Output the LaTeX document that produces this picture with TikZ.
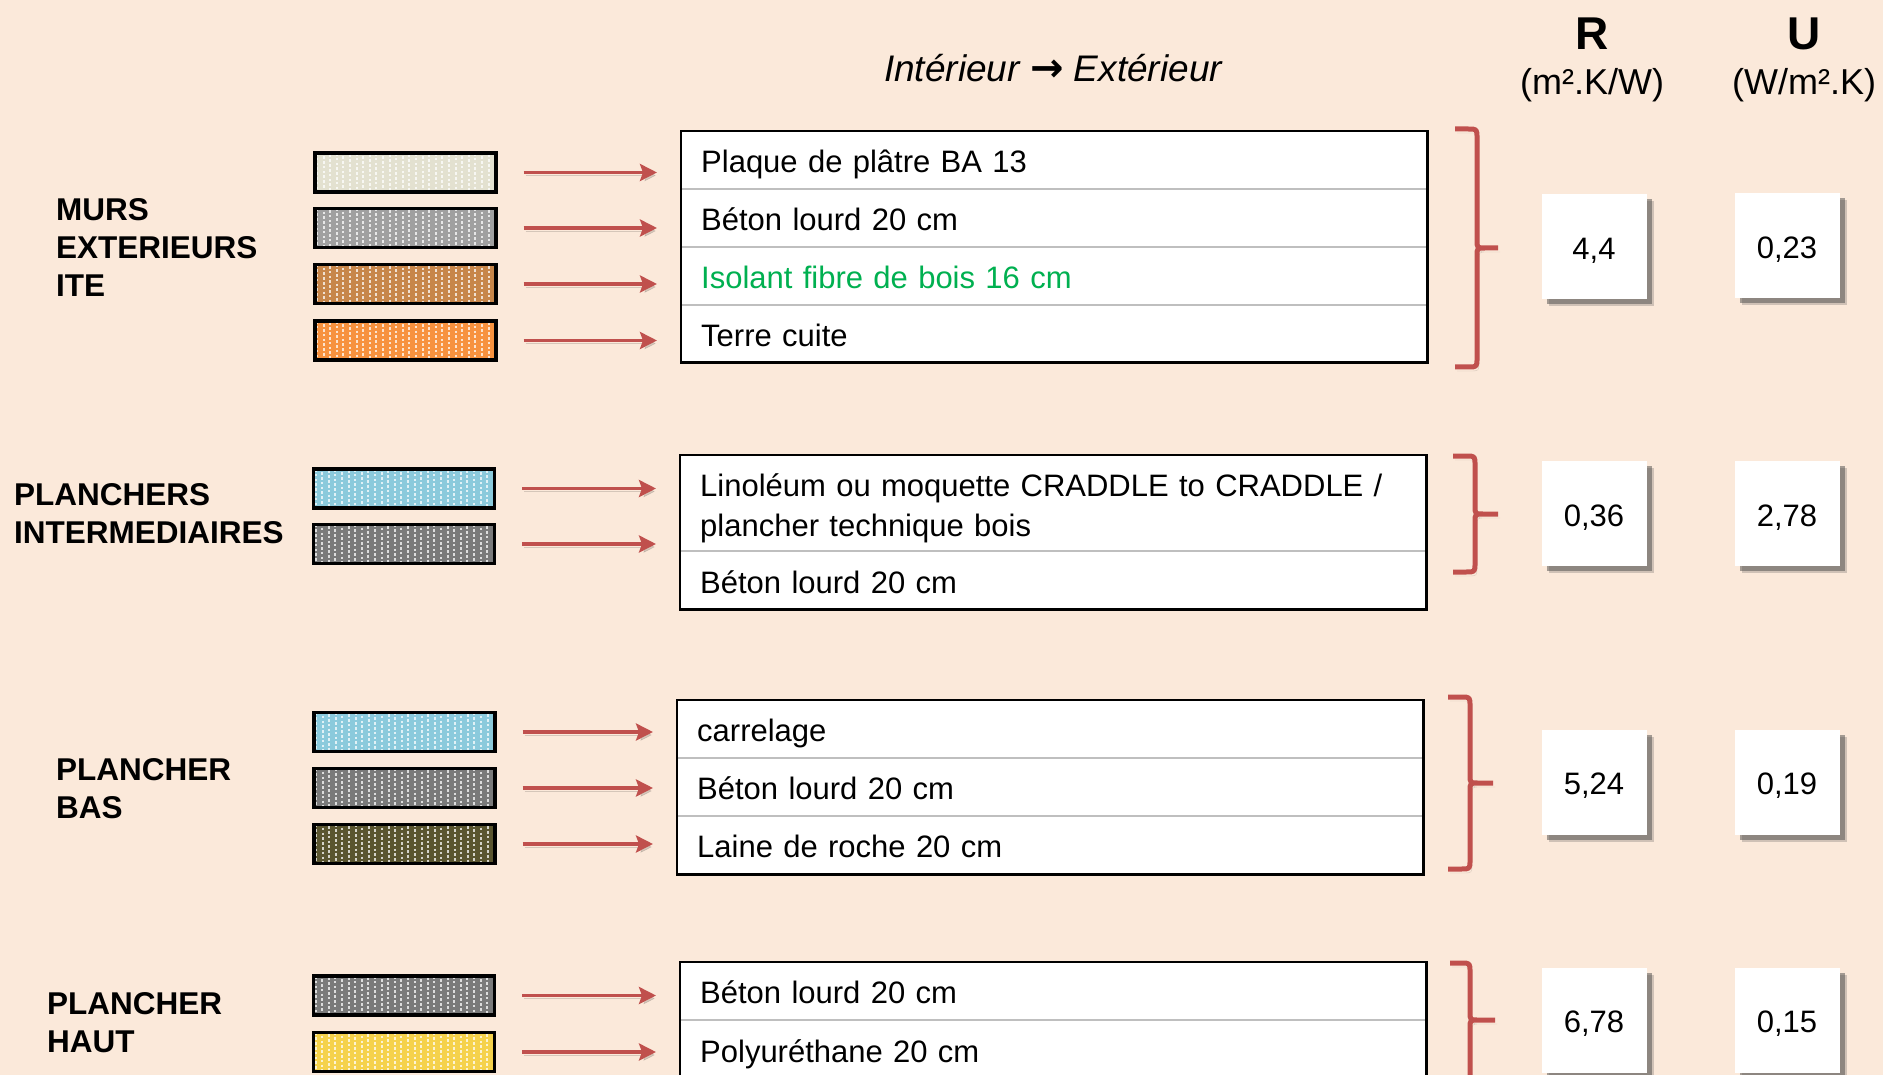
\documentclass[tikz,border=0pt]{standalone}
\usepackage{fontspec}
\setmainfont{Liberation Sans}
\newfontfamily\dejavu{DejaVu Sans}
\usetikzlibrary{arrows.meta,shadows}
\definecolor{bg}{HTML}{FBE9DA}
\definecolor{redc}{HTML}{C0504D}
\definecolor{greenc}{HTML}{00B050}
\definecolor{divc}{HTML}{BFBFBF}
\definecolor{cream}{HTML}{E3E1D0}
\definecolor{lgray}{HTML}{A0A0A0}
\definecolor{brownc}{HTML}{C7864A}
\definecolor{orangec}{HTML}{F7923F}
\definecolor{blue}{HTML}{8BCADC}
\definecolor{dgray}{HTML}{7A7A7A}
\definecolor{olive}{HTML}{5A552F}
\definecolor{yellowc}{HTML}{F5D24C}
\newcommand\mybrace[6]{%
  \draw[bracestyle] (#1,#4) -- ({#2-9},#4) .. controls (#2,#4) .. (#2,{#4+9}) -- (#2,{#5-8}) .. controls (#2,#5) .. ({#2+8},#5) -- (#3,#5)
    ({#2+8},#5) .. controls (#2,#5) .. (#2,{#5+8}) -- (#2,{#6-9}) .. controls (#2,#6) .. ({#2-9},#6) -- (#1,#6);
}
\begin{document}
\begin{tikzpicture}[x=1pt,y=-1pt,
  lab/.style={anchor=west, align=left, font=\bfseries\fontsize{31.5}{38}\selectfont, inner sep=0pt},
  swatch/.style={draw=black, line width=3.2pt, minimum width=181pt, minimum height=39pt, inner sep=0pt,
    path picture={
      \foreach \k in {0,...,27}{
        \pgfmathsetmacro\ph{mod(\k,3)*1.6}
        \draw[white, opacity=.75, line width=2pt, dash pattern=on 2.6pt off 2.2pt, dash phase=\ph pt]
          ([xshift=\k*6.6pt+2pt]path picture bounding box.north west) -- ([xshift=\k*6.6pt+2pt]path picture bounding box.south west);
      }
    }},
  arr/.style={draw=redc, line width=3.4pt, -{Stealth[length=17pt,width=17pt,inset=3pt]},
    shorten <=26pt, shorten >=24pt,
    preaction={draw=black, opacity=.15, transform canvas={shift={(2pt,-3pt)}}}},
  rowbase/.style={fill=white, text width=706pt, inner xsep=20pt, inner ysep=0pt, align=left, anchor=north west,
    font=\fontsize{31}{40}\selectfont},
  rowcell/.style={rowbase, text height=27pt, text depth=2pt},
  boxline/.style={draw=black, line width=2.8pt},
  divline/.style={draw=divc, line width=2pt},
  bracestyle/.style={draw=redc, line width=5pt, line join=round,
    preaction={draw=black, opacity=.15, transform canvas={shift={(2pt,-4pt)}}}},
  val/.style={fill=white, minimum size=105pt, inner sep=0pt, font=\fontsize{31}{31}\selectfont,
    text height=25pt, text depth=0pt,
    drop shadow={shadow xshift=7pt, shadow yshift=-7pt, fill=black!70, opacity=.25},
    drop shadow={shadow xshift=5pt, shadow yshift=-5pt, fill=black!70, opacity=.5}},
  ]
\path[use as bounding box, fill=bg] (0,0) rectangle (1883,1075);
\clip (0,0) rectangle (1883,1075);

% headers
\node[font=\itshape\fontsize{37}{40}\selectfont] (title) at (1053,68) {Intérieur {\dejavu\bfseries\fontsize{40}{40}\selectfont →} Extérieur};
\node[font=\bfseries\fontsize{46}{46}\selectfont] (hR) at (1592,34) {R};
\node[font=\fontsize{36}{36}\selectfont] (uR) at (1592,85) {(m².K/W)};
\node[font=\bfseries\fontsize{46}{46}\selectfont] (hU) at (1804,34) {U};
\node[font=\fontsize{36}{36}\selectfont] (uU) at (1804,85) {(W/m².K)};

% left labels
\node[lab] (l1) at (56,248) {MURS\\EXTERIEURS\\ITE};
\node[lab] (l2) at (14,514) {PLANCHERS\\INTERMEDIAIRES};
\node[lab] (l3) at (56,789) {PLANCHER\\BAS};
\node[lab] (l4) at (47,1023) {PLANCHER\\HAUT};

% ---------- MURS
\node[swatch, fill=cream] (s11) at (405.5,172.5) {};
\node[swatch, fill=lgray] (s12) at (405.5,228) {};
\node[swatch, fill=brownc] (s13) at (405.5,284) {};
\node[swatch, fill=orangec] (s14) at (405.5,340.5) {};
\node[rowcell, minimum height=58pt] (m1) at (681,131) {Plaque de plâtre BA 13};
\node[rowcell, minimum height=57pt] (m2) at (m1.south west) {Béton lourd 20 cm};
\node[rowcell, minimum height=58pt, text=greenc] (m3) at (m2.south west) {Isolant fibre de bois 16 cm};
\node[rowcell, minimum height=57pt] (m4) at (m3.south west) {Terre cuite};
\draw[divline] (m1.south west) -- (m1.south east) (m2.south west) -- (m2.south east) (m3.south west) -- (m3.south east);
\draw[boxline] (m1.north west) rectangle (m4.south east);
\foreach \s in {s11,s12,s13,s14} \draw[arr] (\s.east) -- (\s.east -| m1.west);
\mybrace{1455}{1477}{1498}{129}{248}{367}
\node[val] (r1) at (1594,247) {4,4};
\node[val] (u1) at (1787,246) {0,23};

% ---------- PLANCHERS INTERMEDIAIRES
\node[swatch, fill=blue] (s21) at (404,488.5) {};
\node[swatch, fill=dgray] (s22) at (404,544) {};
\node[rowbase, minimum height=96pt] (p1) at (680,455) {\rule{0pt}{34pt}Linoléum ou moquette CRADDLE to CRADDLE /\\plancher technique bois};
\node[rowcell, minimum height=58pt] (p2) at (p1.south west) {Béton lourd 20 cm};
\draw[divline] (p1.south west) -- (p1.south east);
\draw[boxline] (p1.north west) rectangle (p2.south east);
\foreach \s in {s21,s22} \draw[arr] (\s.east) -- (\s.east -| p1.west);
\mybrace{1453}{1475}{1498}{456}{514}{572}
\node[val] (r2) at (1594,513.5) {0,36};
\node[val] (u2) at (1787,513.5) {2,78};

% ---------- PLANCHER BAS
\node[swatch, fill=blue] (s31) at (404.5,732) {};
\node[swatch, fill=dgray] (s32) at (404.5,788) {};
\node[swatch, fill=olive] (s33) at (404.5,844) {};
\node[rowcell, minimum height=58pt] (b1) at (677,700) {carrelage};
\node[rowcell, minimum height=57pt] (b2) at (b1.south west) {Béton lourd 20 cm};
\node[rowcell, minimum height=58pt] (b3) at (b2.south west) {Laine de roche 20 cm};
\draw[divline] (b1.south west) -- (b1.south east) (b2.south west) -- (b2.south east);
\draw[boxline] (b1.north west) rectangle (b3.south east);
\foreach \s in {s31,s32,s33} \draw[arr] (\s.east) -- (\s.east -| b1.west);
\mybrace{1448}{1470}{1493}{697}{783}{869}
\node[val] (r3) at (1594,782) {5,24};
\node[val] (u3) at (1787,782) {0,19};

% ---------- PLANCHER HAUT
\node[swatch, fill=dgray] (s41) at (404,995.5) {};
\node[swatch, fill=yellowc] (s42) at (404,1052) {};
\node[rowcell, minimum height=58pt] (h1) at (680,962) {Béton lourd 20 cm};
\node[rowcell, minimum height=58pt] (h2) at (h1.south west) {Polyuréthane 20 cm};
\draw[divline] (h1.south west) -- (h1.south east);
\draw[boxline] (h1.north west) rectangle (h2.south east);
\foreach \s in {s41,s42} \draw[arr] (\s.east) -- (\s.east -| h1.west);
\mybrace{1450}{1470}{1495}{963}{1020}{1085}
\node[val] (r4) at (1594,1020) {6,78};
\node[val] (u4) at (1787,1020) {0,15};
\end{tikzpicture}
\end{document}
